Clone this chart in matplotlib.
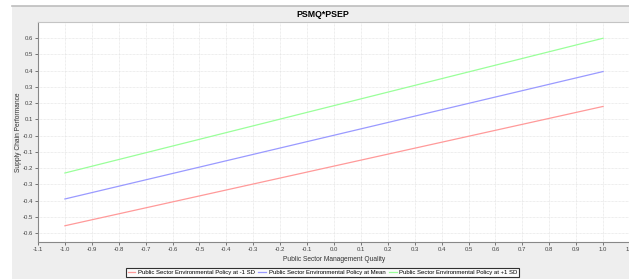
import numpy as np
import matplotlib.pyplot as plt
from matplotlib.patches import Rectangle
from matplotlib.lines import Line2D

# data
x_vals = [-1.0, 1.0]
low_sd = [-0.555, 0.18]
at_mean = [-0.39, 0.395]
high_sd = [-0.23, 0.60]
series_labels = ['Public Sector Environmental Policy at -1 SD',
                 'Public Sector Environmental Policy at Mean',
                 'Public Sector Environmental Policy at +1 SD']
series_colors = ['#ff9a9a', '#9a9aff', '#9aff9a']
x_ticks = np.round(np.arange(-1.1, 1.11, 0.1), 1)
y_ticks = np.round(np.arange(-0.6, 0.61, 0.1), 1)

W, H = 629, 279
plt.rcParams['font.family'] = ['Liberation Sans', 'DejaVu Sans']

fig = plt.figure(figsize=(W / 100, H / 100), dpi=100, facecolor='white')

# grey chart panel with a darker top border
fig.patches.append(Rectangle((12 / W, 0), 1, 1 - 6 / H, transform=fig.transFigure,
                             facecolor='#eeeeee', edgecolor='none', zorder=-2))
fig.lines.append(Line2D([12 / W, 1], [1 - 6 / H, 1 - 6 / H], transform=fig.transFigure,
                        color='#bdbdbd', lw=1.2, zorder=-1))

ax = fig.add_axes([38 / W, 37 / H, 592 / W, 220 / H])
ax.set_facecolor('white')

for ys, lab, col in zip([low_sd, at_mean, high_sd], series_labels, series_colors):
    ax.plot(x_vals, ys, color=col, lw=0.9, label=lab)

ax.set_xlim(-1.1, 1.1)
ax.set_ylim(-0.655, 0.7)
ax.set_xticks(x_ticks)
ax.set_yticks(y_ticks)
ax.set_xticklabels(['%.1f' % v for v in x_ticks])
ax.set_yticklabels(['%.1f' % v for v in y_ticks])
ax.tick_params(labelsize=4.3, colors='#444444', length=2, width=0.5, pad=1.5)
ax.grid(True, color='#dedede', lw=0.5, ls=(0, (1, 1)))
ax.set_axisbelow(True)

for s in ['left', 'bottom']:
    ax.spines[s].set_color('#888888')
    ax.spines[s].set_linewidth(0.8)
ax.spines['top'].set_color('#c4c4c4')
ax.spines['right'].set_visible(False)

ax.set_xlabel('Public Sector Management Quality', fontsize=4.8, color='#333333', labelpad=3)
ax.set_ylabel('Supply Chain Performance', fontsize=4.8, color='#333333', labelpad=0.5)

fig.text(322.5 / W, 1 - 14.5 / H, 'PSMQ*PSEP', ha='center', va='center',
         fontsize=6.3, fontweight='bold')

leg = fig.legend(loc='upper center', bbox_to_anchor=(322.5 / W, 1 - 265 / H), ncol=3,
                 fontsize=4.3, frameon=True, fancybox=False, handlelength=1.3,
                 handletextpad=0.4, columnspacing=0.6, borderpad=0.35)
leg.get_frame().set_edgecolor('black')
leg.get_frame().set_linewidth(0.8)

fig.savefig('out.png', dpi=100, facecolor='white')
